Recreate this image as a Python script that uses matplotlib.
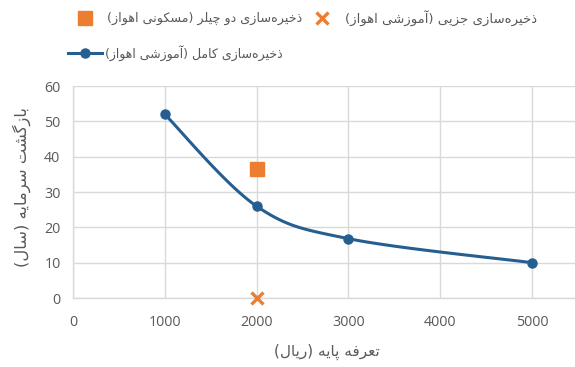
import matplotlib
matplotlib.use("Agg")
import matplotlib.pyplot as plt
import numpy as np
from matplotlib.lines import Line2D

# ---- data -------------------------------------------------------------
tariff_full = [1000, 2000, 3000, 5000]
payback_full = [52, 26, 16.8, 10]

tariff_partial = [2000]
payback_partial = [0]

tariff_chiller = [2000]
payback_chiller = [36.5]

x_ticks = [0, 1000, 2000, 3000, 4000, 5000]
y_ticks = [0, 10, 20, 30, 40, 50, 60]

label_full = "ذخیره\u200cسازی کامل (آموزشی اهواز)"
label_partial = "ذخیره\u200cسازی جزیی (آموزشی اهواز)"
label_chiller = "ذخیره\u200cسازی دو چیلر (مسکونی اهواز)"
x_title = "تعرفه پایه (ریال)"
y_title = "بازگشت سرمایه (سال)"

# ---- minimal Persian shaping (contextual forms + visual order) --------
# (isolated, final, initial, medial); right-joining letters have no initial/medial
FORMS = {
    "\u0627": (0xFE8D, 0xFE8E, None, None),    # alef
    "\u0622": (0xFE81, 0xFE82, None, None),    # alef madda
    "\u0628": (0xFE8F, 0xFE90, 0xFE91, 0xFE92),
    "\u067E": (0xFB56, 0xFB57, 0xFB58, 0xFB59),
    "\u062A": (0xFE95, 0xFE96, 0xFE97, 0xFE98),
    "\u062C": (0xFE9D, 0xFE9E, 0xFE9F, 0xFEA0),
    "\u0686": (0xFB7A, 0xFB7B, 0xFB7C, 0xFB7D),
    "\u062E": (0xFEA5, 0xFEA6, 0xFEA7, 0xFEA8),
    "\u062F": (0xFEA9, 0xFEAA, None, None),
    "\u0630": (0xFEAB, 0xFEAC, None, None),
    "\u0631": (0xFEAD, 0xFEAE, None, None),
    "\u0632": (0xFEAF, 0xFEB0, None, None),
    "\u0633": (0xFEB1, 0xFEB2, 0xFEB3, 0xFEB4),
    "\u0634": (0xFEB5, 0xFEB6, 0xFEB7, 0xFEB8),
    "\u0639": (0xFEC9, 0xFECA, 0xFECB, 0xFECC),
    "\u0641": (0xFED1, 0xFED2, 0xFED3, 0xFED4),
    "\u06A9": (0xFB8E, 0xFB8F, 0xFB90, 0xFB91),
    "\u06AF": (0xFB92, 0xFB93, 0xFB94, 0xFB95),
    "\u0644": (0xFEDD, 0xFEDE, 0xFEDF, 0xFEE0),
    "\u0645": (0xFEE1, 0xFEE2, 0xFEE3, 0xFEE4),
    "\u0646": (0xFEE5, 0xFEE6, 0xFEE7, 0xFEE8),
    "\u0647": (0xFEE9, 0xFEEA, 0xFEEB, 0xFEEC),
    "\u0648": (0xFEED, 0xFEEE, None, None),
    "\u06CC": (0xFBFC, 0xFBFD, 0xFBFE, 0xFBFF),
}
MIRROR = {"(": ")", ")": "("}


def shape(text):
    chars = list(text)
    out = []
    for i, c in enumerate(chars):
        if c not in FORMS:
            out.append(c)
            continue
        prev = chars[i - 1] if i > 0 else None
        nxt = chars[i + 1] if i + 1 < len(chars) else None
        joins_prev = prev in FORMS and FORMS[prev][2] is not None
        joins_next = FORMS[c][2] is not None and nxt in FORMS
        f = FORMS[c]
        if joins_prev and joins_next:
            code = f[3]
        elif joins_prev:
            code = f[1]
        elif joins_next:
            code = f[2]
        else:
            code = f[0]
        out.append(chr(code))
    out = [MIRROR.get(c, c) for c in out if c != "\u200c"]
    return "".join(reversed(out))


# ---- figure -----------------------------------------------------------
W, H = 575, 367
fig = plt.figure(figsize=(W / 100, H / 100), dpi=100)
ax = fig.add_axes([73 / W, 1 - 298 / H, 1 - 73 / W, (298 - 86) / H])

BLUE = "#255E91"
ORANGE = "#ED7D31"
GRID = "#D9D9D9"
TEXT = "#595959"
num_font = "Open Sans"
fa_font = "DejaVu Sans"

ax.set_xlim(0, 5470)
ax.set_ylim(0, 60)
ax.set_xticks(x_ticks)
ax.set_yticks(y_ticks)
ax.set_xticklabels([str(v) for v in x_ticks], fontfamily=num_font, fontsize=10.3, color=TEXT)
ax.set_yticklabels([str(v) for v in y_ticks], fontfamily=num_font, fontsize=10.3, color=TEXT)
ax.tick_params(axis="both", length=0)
ax.tick_params(axis="x", pad=12)
ax.tick_params(axis="y", pad=9)
ax.grid(True, color=GRID, linewidth=1.0)
ax.set_axisbelow(True)
for side in ("top", "right"):
    ax.spines[side].set_visible(False)
for side in ("left", "bottom"):
    ax.spines[side].set_color(GRID)
    ax.spines[side].set_linewidth(1.0)

# smoothed line (cubic Bezier through the points, computed in pixel space)
pts = ax.transData.transform(np.column_stack([tariff_full, payback_full]))
n = len(pts)
curve = []
t = np.linspace(0, 1, 40)[:, None]
for i in range(n - 1):
    p0 = pts[max(i - 1, 0)]
    p1 = pts[i]
    p2 = pts[i + 1]
    p3 = pts[min(i + 2, n - 1)]
    c1 = p1 + (p2 - p0) / 6.0
    c2 = p2 - (p3 - p1) / 6.0
    seg = ((1 - t) ** 3) * p1 + 3 * ((1 - t) ** 2) * t * c1 + 3 * (1 - t) * t ** 2 * c2 + t ** 3 * p2
    curve.append(seg if i == 0 else seg[1:])
curve = ax.transData.inverted().transform(np.vstack(curve))
ax.plot(curve[:, 0], curve[:, 1], color=BLUE, linewidth=2.2, solid_capstyle="round", zorder=3)
ax.plot(tariff_full, payback_full, linestyle="none", marker="o", markersize=6.5,
        color=BLUE, zorder=4)

ax.plot(tariff_chiller, payback_chiller, linestyle="none", marker="s", markersize=9.5,
        color=ORANGE, zorder=4)
ax.plot(tariff_partial, payback_partial, linestyle="none", marker="x", markersize=9,
        markeredgewidth=2.4, color=ORANGE, zorder=5, clip_on=False)

# axis titles
fig.text(327 / W, 1 - 352 / H, shape(x_title), ha="center", va="center",
         fontfamily=fa_font, fontsize=11, color=TEXT)
fig.text(22 / W, 1 - 187 / H, shape(y_title), ha="center", va="center", rotation=90,
         fontfamily=fa_font, fontsize=11.8, color=TEXT)

# legend (right-to-left layout, marker to the left of each entry)
def legend_entry(xc, y, text_x, text, size, **style):
    fy = 1 - y / H
    if style.get("linestyle", "none") != "none":
        fig.add_artist(Line2D([(xc - 17) / W, (xc + 17) / W], [fy, fy],
                              transform=fig.transFigure, color=style["color"],
                              linewidth=2.2))
        style = dict(style, linestyle="none")
    fig.add_artist(Line2D([xc / W], [fy], transform=fig.transFigure, **style))
    fig.text(text_x / W, fy, shape(text), ha="left", va="center",
             fontfamily=fa_font, fontsize=size, color=TEXT)


legend_entry(85, 18, 107, label_chiller, 9.2, color=ORANGE, marker="s", markersize=9.5,
             linestyle="none")
legend_entry(322, 18, 345, label_partial, 9.5, color=ORANGE, marker="x", markersize=9,
             markeredgewidth=2.4, linestyle="none")
legend_entry(85, 53, 105, label_full, 9.0, color=BLUE, marker="o", markersize=6.5,
             linestyle="-")

fig.savefig("out.png", dpi=100)
